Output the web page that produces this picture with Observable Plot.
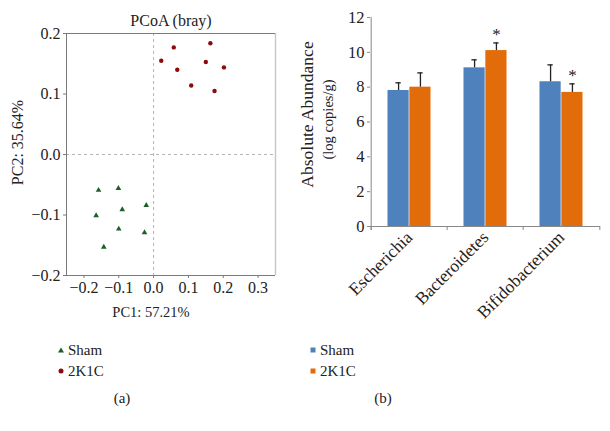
<!DOCTYPE html>
<html>
<head>
<meta charset="utf-8">
<script src="https://cdn.jsdelivr.net/npm/d3@7"></script>
<script src="https://cdn.jsdelivr.net/npm/@observablehq/plot@0.6"></script>
<style>
  html, body { margin: 0; padding: 0; background: #fff; }
  #root { position: relative; width: 610px; height: 431px; overflow: hidden; font-family: "Liberation Serif", "DejaVu Serif", serif; color: #222; }
  .abs { position: absolute; }
  .lbl { position: absolute; font-family: "Liberation Serif", serif; font-size: 15px; line-height: 15px; white-space: nowrap; transform: translateY(-50%); }
  .cap { position: absolute; font-family: "Liberation Serif", serif; font-size: 15px; line-height: 15px; transform: translate(-50%, -50%); }
  .tri { position: absolute; width: 0; height: 0; border-left: 3px solid transparent; border-right: 3px solid transparent; border-bottom: 5px solid #1d5e2a; transform: translate(-50%, -50%); }
  .circ { position: absolute; width: 5px; height: 5px; border-radius: 50%; background: #8b0a0a; transform: translate(-50%, -50%); }
  .sq { position: absolute; width: 5px; height: 5px; transform: translate(-50%, -50%); }
  #pa g[aria-label$="tick label"] text { font-size: 16px; }
  #pb g[aria-label="y-axis tick label"] text { font-size: 16.5px; }
  #pb g[aria-label="x-axis tick label"] text { font-size: 17.5px; }
</style>
</head>
<body>
<div id="root">
  <div id="pa" class="abs" style="left:0;top:0"></div>
  <div id="pb" class="abs" style="left:285px;top:0"></div>

  <div class="tri" style="left:61px;top:350px"></div>
  <div class="lbl" style="left:68px;top:350px">Sham</div>
  <div class="circ" style="left:61px;top:371px"></div>
  <div class="lbl" style="left:68px;top:371px">2K1C</div>
  <div class="cap" style="left:122px;top:398px">(a)</div>

  <div class="sq" style="left:312.5px;top:350px;background:#4f81bd"></div>
  <div class="lbl" style="left:320px;top:350px">Sham</div>
  <div class="sq" style="left:312.5px;top:371px;background:#e36c0a"></div>
  <div class="lbl" style="left:320px;top:371px">2K1C</div>
  <div class="cap" style="left:383px;top:398px">(b)</div>
</div>
<script>
// ---------- Panel (a): PCoA data ----------
const shamPC1 = [-0.158, -0.101, -0.021, -0.090, -0.165, -0.100, -0.026, -0.143];
const shamPC2 = [-0.059, -0.056, -0.084, -0.091, -0.101, -0.123, -0.129, -0.153];
const k1cPC1  = [0.022, 0.058, 0.163, 0.068, 0.150, 0.202, 0.108, 0.175];
const k1cPC2  = [0.155, 0.177, 0.184, 0.140, 0.153, 0.144, 0.114, 0.105];
const pcoaXDomain = [-0.25, 0.35];
const pcoaYDomain = [-0.2, 0.2];
const pcoaXTicks = [-0.2, -0.1, 0.0, 0.1, 0.2, 0.3];
const pcoaYTicks = [-0.2, -0.1, 0.0, 0.1, 0.2];

// ---------- Panel (b): bar data ----------
const genera = ["Escherichia", "Bacteroidetes", "Bifidobacterium"];
const shamMean = [7.81, 9.11, 8.31];
const shamErr  = [0.44, 0.46, 0.97];
const k1cMean  = [8.00, 10.10, 7.70];
const k1cErr   = [0.82, 0.44, 0.49];
const k1cSignificant = [false, true, true];
const abundanceTicks = [0, 2, 4, 6, 8, 10, 12];

const serif = "Liberation Serif, DejaVu Serif, serif";
const green = "#1d5e2a", darkred = "#8b0a0a";
const blue = "#4f81bd", orange = "#e36c0a";

// ----- Panel (a) -----
const sham = shamPC1.map((x, i) => ({x, y: shamPC2[i]}));
const k1c = k1cPC1.map((x, i) => ({x, y: k1cPC2[i]}));

const pa = Plot.plot({
  width: 285, height: 330,
  marginLeft: 66, marginTop: 33, marginRight: 10, marginBottom: 55,
  style: {fontFamily: serif, fontSize: "16px", color: "#222", background: "transparent"},
  x: {domain: pcoaXDomain, ticks: pcoaXTicks, tickFormat: d3.format(".1f")},
  y: {domain: pcoaYDomain, ticks: pcoaYTicks, tickFormat: d3.format(".1f")},
  marks: [
    Plot.ruleX([0], {stroke: "#b5b5b5", strokeDasharray: "3,3"}),
    Plot.ruleY([0], {stroke: "#b5b5b5", strokeDasharray: "3,3"}),
    Plot.ruleX([pcoaXDomain[1]], {stroke: "#c8c8c8", strokeWidth: 1.5}),
    Plot.ruleX([pcoaXDomain[0]], {stroke: "#7a7a7a"}),
    Plot.ruleY(pcoaYDomain, {stroke: "#7a7a7a"}),
    Plot.dot(sham, {x: "x", y: "y", symbol: "triangle", r: 2.1, fill: green}),
    Plot.dot(k1c, {x: "x", y: "y", symbol: "circle", r: 2.2, fill: darkred}),
    Plot.axisX({ticks: pcoaXTicks, tickFormat: d3.format(".1f"), tickSize: 3, tickPadding: 3, stroke: "#7a7a7a", fontSize: 16, label: null}),
    Plot.axisY({ticks: pcoaYTicks, tickFormat: d3.format(".1f"), tickSize: 3, tickPadding: 3, stroke: "#7a7a7a", fontSize: 16, label: null}),
    Plot.text(["PCoA (bray)"], {frameAnchor: "top", lineAnchor: "middle", dy: -13, fontSize: 16, fill: "#222"}),
    Plot.text(["PC1: 57.21%"], {frameAnchor: "bottom", lineAnchor: "middle", textAnchor: "middle", dx: -20, dy: 37, fontSize: 14.5, fill: "#222"}),
    Plot.text(["PC2: 35.64%"], {frameAnchor: "left", lineAnchor: "middle", textAnchor: "middle", dx: -49, dy: -12, rotate: -90, fontSize: 16, fill: "#222"})
  ]
});
document.getElementById("pa").append(pa);

// ----- Panel (b) -----
const rows = genera.map((g, i) => ({
  genus: g,
  sham: shamMean[i], shamUp: shamMean[i] + shamErr[i],
  k1c: k1cMean[i], k1cUp: k1cMean[i] + k1cErr[i],
  sig: k1cSignificant[i]
}));

const W = 325, mL = 85, mR = 10;
const step = (W - mL - mR) / genera.length;
const barW = step * 0.285;
const capHalf = 3;

const pb = Plot.plot({
  width: W, height: 330,
  marginLeft: mL, marginRight: mR, marginTop: 17, marginBottom: 104,
  style: {fontFamily: serif, fontSize: "16px", color: "#222", background: "transparent"},
  x: {domain: genera, padding: 0},
  y: {domain: [0, d3.max(abundanceTicks)], ticks: abundanceTicks},
  marks: [
    Plot.barY(rows, {x: "genus", y: "sham", fill: blue, insetLeft: step / 2 - barW, insetRight: step / 2}),
    Plot.barY(rows, {x: "genus", y: "k1c", fill: orange, insetLeft: step / 2, insetRight: step / 2 - barW}),
    Plot.ruleX(rows, {x: "genus", y1: "sham", y2: "shamUp", dx: -barW / 2, stroke: "#222", strokeWidth: 1.3}),
    Plot.ruleX(rows, {x: "genus", y1: "k1c", y2: "k1cUp", dx: barW / 2, stroke: "#222", strokeWidth: 1.3}),
    Plot.tickY(rows, {x: "genus", y: "shamUp", dx: -barW / 2, insetLeft: step / 2 - capHalf, insetRight: step / 2 - capHalf, stroke: "#222", strokeWidth: 1.3}),
    Plot.tickY(rows, {x: "genus", y: "k1cUp", dx: barW / 2, insetLeft: step / 2 - capHalf, insetRight: step / 2 - capHalf, stroke: "#222", strokeWidth: 1.3}),
    Plot.text(rows.filter(d => d.sig), {x: "genus", y: "k1cUp", dx: barW / 2, dy: -8, text: () => "*", fontSize: 17, fill: "#222"}),
    Plot.ruleY([0], {stroke: "#888"}),
    Plot.ruleX([genera[0]], {x: d => d, y1: d3.max(abundanceTicks), y2: 0, dx: -step / 2, insetBottom: -4, stroke: "#888"}),
    Plot.ruleX(genera, {x: d => d, y1: 0, y2: 0, dx: -step / 2, insetBottom: -4, stroke: "#888"}),
    Plot.ruleX([genera[genera.length - 1]], {x: d => d, y1: 0, y2: 0, dx: step / 2, insetBottom: -4, stroke: "#888"}),
    Plot.axisY({ticks: abundanceTicks, tickSize: 3, tickPadding: 3, stroke: "#888", fontSize: 16.5, label: null}),
    Plot.axisX({tickSize: 0, tickPadding: 8, tickRotate: -45, fontSize: 17.5, label: null}),
    Plot.text(["Absolute Abundance"], {frameAnchor: "left", lineAnchor: "middle", textAnchor: "middle", dx: -63, dy: -7.5, rotate: -90, fontSize: 17.5, fill: "#222"}),
    Plot.text(["(log copies/g)"], {frameAnchor: "left", lineAnchor: "middle", textAnchor: "middle", dx: -42.5, dy: -2.5, rotate: -90, fontSize: 14.5, fill: "#222"})
  ]
});
document.getElementById("pb").append(pb);
</script>
</body>
</html>
